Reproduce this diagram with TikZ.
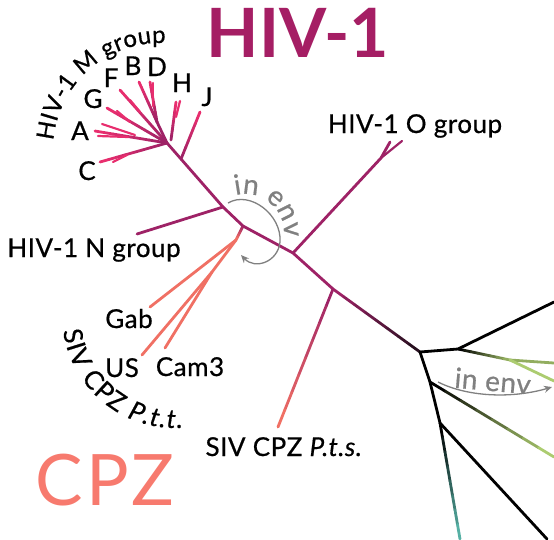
\documentclass[tikz,border=0pt]{standalone}
\usepackage{fontspec}
\setmainfont{Lato}
\newfontfamily\lblfam{Lato}[LetterSpace=2,FakeBold=0.6]
\usetikzlibrary{calc,decorations.text,arrows.meta}

\definecolor{hivpurple}{RGB}{158,34,102}
\definecolor{mpink}{RGB}{232,46,110}
\definecolor{cpzred}{RGB}{240,112,100}
\definecolor{cpztext}{RGB}{247,122,110}
\definecolor{hivtitle}{RGB}{165,30,100}
\definecolor{envgray}{RGB}{128,128,128}
\definecolor{leafgreen}{RGB}{172,204,112}
\definecolor{leafteal}{RGB}{86,176,164}
\definecolor{darkstem}{RGB}{40,16,32}

\newcommand\lblfont{\lblfam\fontsize{26}{30}\selectfont}
\newcommand\envfont{\lblfam\fontsize{28}{32}\selectfont}
% branch with a colour run: \branch{from}{to}{start colour}{end colour}
\newcommand\branch[4]{%
  \foreach \k in {0,...,7}{%
    \pgfmathtruncatemacro\mixpct{100-100*\k/7}%
    \draw[tree,color=#3!\mixpct!#4] ($(#1)!\k/8!(#2)$) -- ($(#1)!{(\k+1)/8}!(#2)$);
  }}

\begin{document}
\begin{tikzpicture}[x=1pt,y=-1pt,
  tree/.style={line width=2.8pt,line cap=round},
  twig/.style={line width=2.2pt,line cap=round},
  lbl/.style={font=\lblfont,anchor=base,inner sep=0pt},
  arclbl/.style={decorate,decoration={text along path,text align=fit to path,#1}},
  envarrow/.style={envgray,line width=1.3pt,-{Stealth[length=8pt,width=7pt]}}]
\useasboundingbox (0,0) rectangle (554,539);

% titles
\node[font=\fontsize{68}{78}\selectfont\bfseries,text=hivtitle,anchor=base,inner sep=0pt] (titlehiv) at (298,57) {HIV-1};
\node[font=\fontsize{71}{80}\selectfont\addfontfeature{LetterSpace=4},text=cpztext,anchor=base,inner sep=0pt] (titlecpz) at (105,505) {CPZ};

% backbone
\coordinate (mhub)  at (167,143);
\coordinate (jstem) at (181,159);
\coordinate (nj)    at (223,207);
\coordinate (cj)    at (243,226);
\coordinate (oj)    at (293,253);
\coordinate (pj)    at (333,289);
\coordinate (hub)   at (420,352);

\draw[tree,hivpurple] (mhub) -- (nj) -- (cj) -- (oj) -- (pj);
\branch{pj}{hub}{hivpurple}{darkstem}

% M group
\coordinate (tipC) at (100,162);
\coordinate (tipA) at (95,131);
\coordinate (tipG) at (107,108);
\coordinate (tipF) at (120,90);
\coordinate (bd)   at (157,122);
\coordinate (tipB) at (139,82);
\coordinate (tipD) at (150,82);
\coordinate (hbase) at (171,140);
\coordinate (tipH) at (176,102);
\coordinate (tipJ) at (200,112);

\branch{mhub}{tipC}{hivpurple}{mpink}
\branch{mhub}{tipA}{hivpurple}{mpink}
\branch{mhub}{tipG}{hivpurple}{mpink}
\branch{mhub}{tipF}{hivpurple}{mpink}
\draw[tree,hivpurple] (mhub) -- (bd);
\branch{bd}{tipB}{hivpurple}{mpink}
\branch{bd}{tipD}{hivpurple}{mpink}
\branch{hbase}{tipH}{hivpurple}{mpink}
\branch{jstem}{tipJ}{hivpurple}{mpink}
% small twigs near the tips
\draw[twig,mpink] (127,155) -- (113,162);
\draw[twig,mpink] (135,135) -- (102,124);
\draw[twig,mpink] (128,137) -- (98,136);
\draw[twig,mpink] (130,122) -- (117,111);
\draw[twig,mpink] (140,112) -- (130,100);
\draw[twig,mpink] (153,106) -- (153,83);
\draw[twig,mpink] (176,117) -- (180,101);

\node[lbl] (labC) at (87,180) {C};
\node[lbl] (labA) at (80,140) {A};
\node[lbl] (labG) at (93,108) {G};
\node[lbl] (labF) at (111,87) {F};
\node[lbl] (labB) at (133,75) {B};
\node[lbl] (labD) at (157,76) {D};
\node[lbl] (labH) at (182,92) {H};
\node[lbl] (labJ) at (207,106) {J};
{\lblfam\fontsize{24}{28}\selectfont
\path[arclbl={text={HIV-1 M group}}]
  (160,150) ++(185:107) arc[start angle=185,end angle=273,radius=107];}

% N and O groups
\coordinate (ntip)  at (137,234);
\coordinate (osplit) at (381,158);
\coordinate (otipa) at (390,142);
\coordinate (otipb) at (402,141);
\draw[tree,hivpurple] (nj) -- (ntip);
\draw[tree,hivpurple] (oj) -- (osplit) -- (otipa);
\draw[twig,hivpurple] (osplit) -- (otipb);
\node[lbl] (labN) at (94,257) {HIV-1 N group};
\node[lbl] (labO) at (415,133) {HIV-1 O group};

% chimpanzee strains
\coordinate (csplit) at (236,240);
\coordinate (usplit) at (212,272);
\coordinate (gabtip) at (150,307);
\coordinate (ustip)  at (142,355);
\coordinate (camtip) at (165,348);
\coordinate (ptstip) at (278,427);
\branch{cj}{csplit}{hivpurple}{cpzred}
\draw[tree,cpzred] (csplit) -- (gabtip);
\draw[tree,cpzred] (csplit) -- (usplit) -- (ustip);
\draw[tree,cpzred] (usplit) -- (camtip);
\branch{pj}{ptstip}{hivpurple}{cpzred}
\node[lbl] (labGab) at (129,328) {Gab};
\node[lbl] (labUS) at (122,377) {US};
\node[lbl] (labCam) at (190,376) {Cam3};
\node[lbl] (labPts) at (284,456) {SIV CPZ \textit{P.t.s.}};
{\lblfont
\path[arclbl={text={SIV CPZ |\itshape|P.t.t.}}]
  (175,315) ++(172:113) arc[start angle=172,end angle=86,radius=113];}

% other primate lineages
\coordinate (ja)     at (458,349);
\coordinate (jgreen) at (510,360);
\coordinate (edgea)  at (554,302);
\coordinate (greena) at (554,363);
\coordinate (greenb) at (554,381);
\coordinate (kb)     at (430,382);
\coordinate (greenc) at (554,457);
\coordinate (jc)     at (440,423);
\coordinate (edgeb)  at (547,539);
\coordinate (tealtip) at (460,539);
\draw[tree,black] (hub) -- (ja) -- (edgea);
\branch{ja}{jgreen}{black}{leafgreen!85!black}
\draw[tree,leafgreen!85!black] (jgreen) -- (greena);
\draw[tree,leafgreen] (jgreen) -- (greenb);
\draw[tree,black] (hub) -- (kb) -- (jc) -- (edgeb);
\branch{kb}{greenc}{black}{leafgreen}
\branch{jc}{tealtip}{black}{leafteal}

% in env arrows
\draw[envarrow] (228,203) .. controls (250,190) and (282,215) .. (280,242)
  .. controls (278,262) and (255,270) .. (241,255);
{\envfont
\path[arclbl={text color=envgray,text={in env}}]
  (245,233) ++(-104:39) arc[start angle=-104,end angle=5,radius=39];}
\draw[envarrow] (438,382) .. controls (470,398) and (515,398) .. (552,387);
\node[font=\envfont,anchor=base,inner sep=0pt,text=envgray,rotate=-5] (env2) at (492,391) {in env};
\end{tikzpicture}
\end{document}
